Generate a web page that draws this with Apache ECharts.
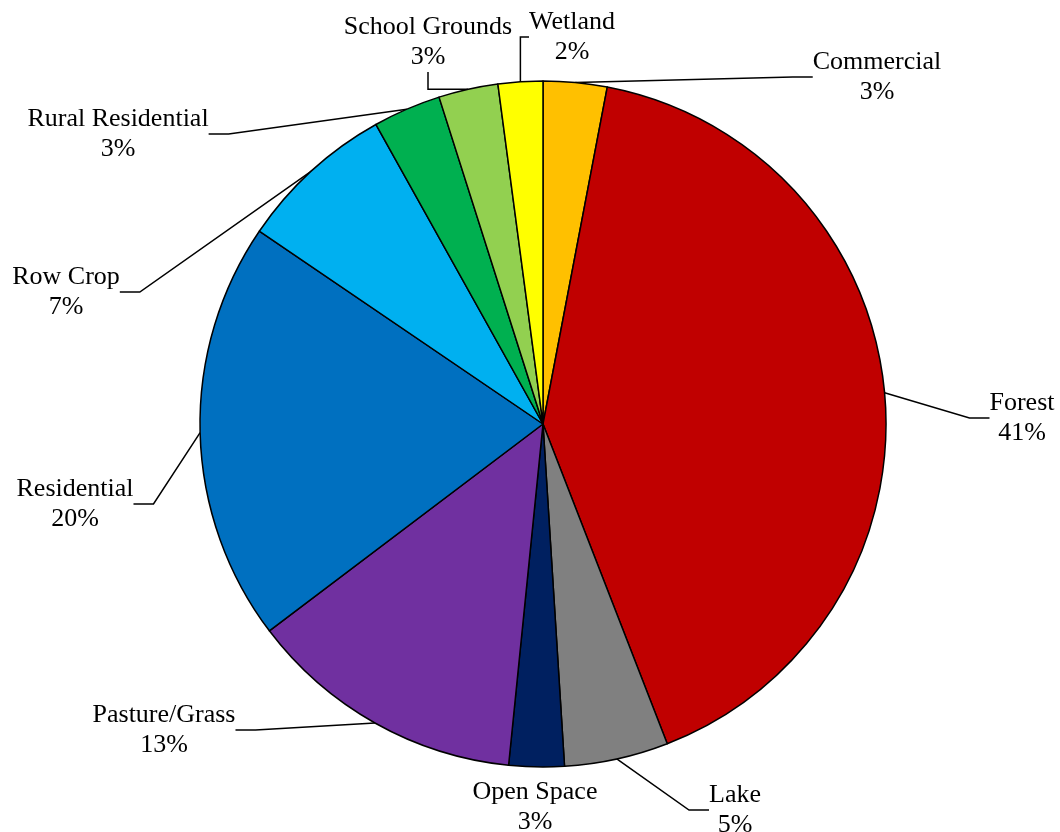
<!DOCTYPE html>
<html>
<head>
<meta charset="utf-8">
<script src="https://cdn.jsdelivr.net/npm/echarts@6/dist/echarts.min.js"></script>
<style>
  html, body { margin: 0; padding: 0; background: #fff; }
  #chart { width: 1060px; height: 832px; }
</style>
</head>
<body>
<div id="chart"></div>
<script>
// land use shares, clockwise from 12 o'clock
const categories = ['Commercial', 'Forest', 'Lake', 'Open Space', 'Pasture/Grass',
  'Residential', 'Row Crop', 'Rural Residential', 'School Grounds', 'Wetland'];
const shares = [3.0, 41.1, 4.9, 2.6, 13.1, 19.8, 7.4, 3.2, 2.8, 2.1];

const colors = ['#FFC000', '#C00000', '#808080', '#002060', '#7030A0',
  '#0070C0', '#00B0F0', '#00B050', '#92D050', '#FFFF00'];

// where each label block sits (centre), like the Excel layout
const labelSpots = [
  [877, 77], [1022, 418], [735, 810], [535, 807], [164, 730],
  [75, 504], [66, 292], [118, 134], [428, 42], [572, 37]
];
const noLine = ['Open Space'];

const chart = echarts.init(document.getElementById('chart'));

chart.setOption({
  animation: false,
  color: colors,
  series: [{
    type: 'pie',
    center: [543, 424],
    radius: 343,
    startAngle: 90,
    clockwise: true,
    avoidLabelOverlap: false,
    data: categories.map((name, i) => ({
      name: name,
      value: shares[i],
      labelLine: { show: !noLine.includes(name) }
    })),
    itemStyle: { borderColor: '#000', borderWidth: 1.5 },
    label: {
      show: true,
      position: 'outside',
      color: '#000',
      fontFamily: 'Liberation Serif',
      fontSize: 26,
      lineHeight: 30,
      align: 'center',
      formatter: p => p.name + '\n' + Math.round(p.percent) + '%'
    },
    labelLine: {
      show: true,
      length: 20,
      length2: 20,
      lineStyle: { color: '#000', width: 1.5 }
    },
    labelLayout: function (p) {
      const s = labelSpots[p.dataIndex];
      return { x: s[0], y: s[1], align: 'center', verticalAlign: 'middle' };
    },
    emphasis: { disabled: true }
  }]
});
</script>
</body>
</html>
